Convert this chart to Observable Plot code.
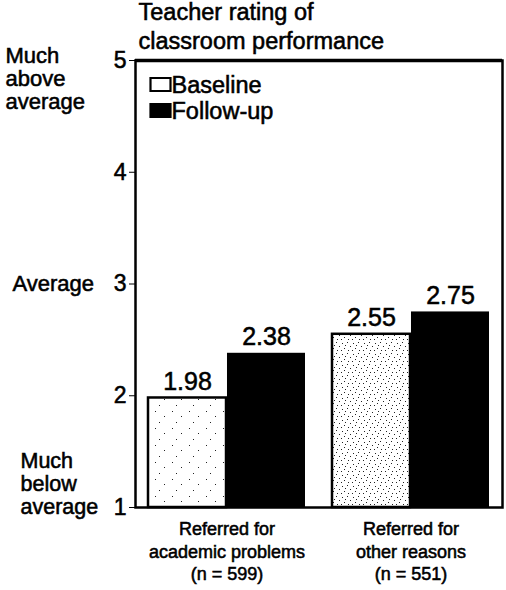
<!DOCTYPE html>
<html>
<head>
<meta charset="utf-8">
<script src="https://cdn.jsdelivr.net/npm/d3@7"></script>
<script src="https://cdn.jsdelivr.net/npm/@observablehq/plot@0.6"></script>
<style>
  html, body { margin: 0; padding: 0; background: #fff; }
  #chart { width: 506px; height: 590px; }
  /* heavier print-style lettering */
  #chart svg text { stroke: #000; stroke-width: 0.55px; }
</style>
</head>
<body>
<div id="chart"></div>
<script>
// Teacher rating of classroom performance, baseline vs follow-up
const groups = [
  "Referred for\nacademic problems\n(n = 599)",
  "Referred for\nother reasons\n(n = 551)"
];
const series = ["Baseline", "Follow-up"];
const baselineValues = [1.98, 2.55];
const followUpValues = [2.38, 2.75];
const ratingTicks = [1, 2, 3, 4, 5];
const ratingAnchors = [
  {rating: 5, label: "Much\nabove\naverage"},
  {rating: 3, label: "Average"},
  {rating: 1, label: "Much\nbelow\naverage"}
];
const title = "Teacher rating of\nclassroom performance";

const rows = groups.flatMap((g, i) => [
  {group: g, series: series[0], value: baselineValues[i]},
  {group: g, series: series[1], value: followUpValues[i]}
]);

const font = "'Liberation Sans', Arial, Helvetica, sans-serif";
const width = 506, height = 590;
const marginLeft = 135, marginRight = 4, marginTop = 60, marginBottom = 83;

const xOptions = {
  type: "band",
  domain: groups,
  range: [marginLeft, width - marginRight],
  paddingInner: 0.146,
  paddingOuter: 0.065,
  align: 0.5
};
// each group band holds two side-by-side bars
const half = Plot.scale({x: xOptions}).bandwidth / 2;

// light scan-like stipple for the hollow baseline bars
const textures = {
  [groups[0]]: "url(#stippleLight)",
  [groups[1]]: "url(#stippleDense)"
};

// rectangular legend swatch
const swatch = {draw(ctx) { ctx.rect(-10, -6.5, 20, 13); }};

const base = rows.filter(d => d.series === series[0]);
const follow = rows.filter(d => d.series === series[1]);

const chart = Plot.plot({
  width, height, marginLeft, marginRight, marginTop, marginBottom,
  style: {fontFamily: font, fontSize: "23px", color: "black", background: "white"},
  x: {...xOptions, axis: null},
  y: {domain: [1, 5], ticks: ratingTicks, tickSize: 6, tickPadding: 3, tickFormat: d => String(d), label: null},
  color: {type: "identity"},
  marks: [
    Plot.barY(base, {x: "group", y1: 1, y2: "value", insetRight: half, fill: d => textures[d.group], stroke: "black", strokeWidth: 2.5}),
    Plot.barY(follow, {x: "group", y1: 1, y2: "value", insetLeft: half, fill: "black"}),
    Plot.text(base, {x: "group", y: "value", text: d => d.value.toFixed(2), dx: -half / 2, dy: -8, lineAnchor: "bottom", fontSize: 25}),
    Plot.text(follow, {x: "group", y: "value", text: d => d.value.toFixed(2), dx: half / 2, dy: -8, lineAnchor: "bottom", fontSize: 25}),
    Plot.frame({stroke: "black", strokeWidth: 2.5}),
    Plot.ruleY([5], {stroke: "black", strokeWidth: 3.5}),
    // rating descriptors beside the axis
    Plot.text([ratingAnchors[0]], {y: "rating", text: "label", frameAnchor: "left", textAnchor: "start", dx: -130, dy: -14, lineAnchor: "top", lineHeight: 1.05, fontSize: 22}),
    Plot.text([ratingAnchors[1]], {y: "rating", text: "label", frameAnchor: "left", textAnchor: "start", dx: -123, lineAnchor: "middle", fontSize: 22}),
    Plot.text([ratingAnchors[2]], {y: "rating", text: "label", frameAnchor: "left", textAnchor: "start", dx: -115, dy: 6, lineAnchor: "bottom", lineHeight: 1.05, fontSize: 21.5}),
    // group labels under the bars
    Plot.text(groups, {x: d => d, text: d => d, frameAnchor: "bottom", lineAnchor: "top", dy: 12, lineHeight: 1.25, fontSize: 18}),
    // title
    Plot.text([title], {text: d => d, frameAnchor: "top-left", textAnchor: "start", lineAnchor: "bottom", dx: 3, dy: -12, lineHeight: 1.22, fontSize: 23.5}),
    // legend
    ...series.map((s, i) => Plot.dot([s], {frameAnchor: "top-left", dx: 25, dy: 24 + i * 26, symbol: swatch, r: 6, fill: i ? "black" : "white", stroke: "black", strokeWidth: 2.2})),
    ...series.map((s, i) => Plot.text([s], {text: d => d, frameAnchor: "top-left", textAnchor: "start", dx: 36, dy: 25 + i * 26, lineAnchor: "middle", fontSize: 23.5}))
  ]
});

// stipple pattern definitions
const defs = d3.select(chart).insert("defs", ":first-child");
function stipple(id, tile, dots) {
  const p = defs.append("pattern").attr("id", id).attr("patternUnits", "userSpaceOnUse")
    .attr("width", tile).attr("height", tile);
  p.append("rect").attr("width", tile).attr("height", tile).attr("fill", "white");
  dots.forEach(([x, y]) => p.append("rect").attr("x", x).attr("y", y).attr("width", 1).attr("height", 1).attr("fill", "#222"));
}
stipple("stippleLight", 17, [[2, 3], [11, 8], [6, 14]]);
stipple("stippleDense", 11, [[1, 2], [6, 1], [9, 5], [3, 7], [7, 9], [4, 4], [0, 9]]);

document.getElementById("chart").append(chart);
</script>
</body>
</html>
